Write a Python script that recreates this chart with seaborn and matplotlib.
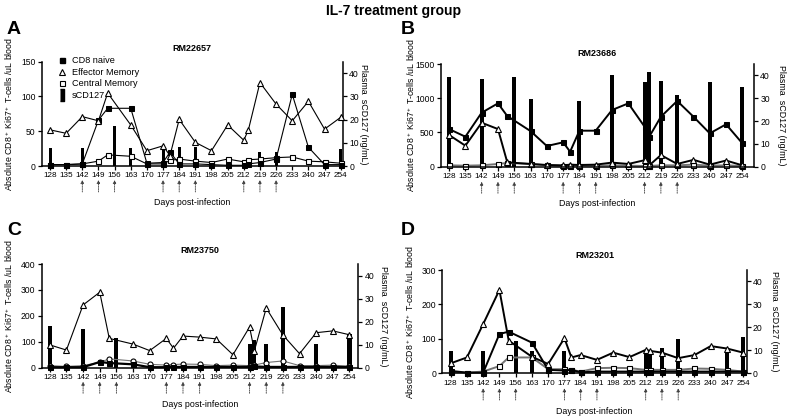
import numpy as np
import matplotlib
matplotlib.use("Agg")
import matplotlib.pyplot as plt
import seaborn as sns
from matplotlib.lines import Line2D

sns.set_theme(style="ticks")
plt.rcParams["font.family"] = ["Liberation Sans", "DejaVu Sans"]
plt.rcParams.update({
    "axes.edgecolor": "black", "xtick.color": "black", "ytick.color": "black",
    "text.color": "black", "axes.labelcolor": "black",
    "mathtext.fontset": "custom", "mathtext.rm": "Liberation Sans",
    "mathtext.it": "Liberation Sans", "mathtext.bf": "Liberation Sans:bold",
})

# ---------------- data ----------------
tick_days = list(range(128, 255, 7))
arrow_days = [142, 149, 156, 177, 184, 191, 212, 219, 226]
days = [128, 135, 142, 149, 153, 163, 170, 177, 180, 184, 191, 198, 205, 212, 214,
        219, 226, 233, 240, 247, 254]

# Panel A  RM22657
naive_A = [2, 2, 3, 66, 83, 83, 4, 5, 20, 3, 3, 2, 1, 1, 3, 5, 10, 103, 27, 2, 2]
em_A = [52, 47, 71, 65, 105, 59, 22, 29, 15, 67, 34, 22, 59, 37, 52, 120, 89, 65, 93, 53, 70]
cm_A = [2, 2, 3, 7, 16, 14, 3, 3, 8, 10, 7, 5, 10, 6, 9, 10, 12, 13, 7, 6, 4]
bar_days_A = [128, 142, 156, 163, 177, 184, 191, 205, 212, 219, 226, 254]
scd_A = [7.9, 7.9, 17.4, 7.9, 8.0, 8.0, 8.3, 1.9, 1.3, 6.0, 6.2, 7.3]

# Panel B  RM23686
naive_B = [550, 438, 789, 925, 740, 520, 302, 356, 219, 526, 526, 828, 925, 584, 438,
           730, 960, 730, 487, 619, 341]
em_B = [463, 307, 642, 550, 64, 40, 25, 20, 30, 25, 30, 60, 40, 95, 20, 170, 40, 100, 30, 90, 20]
cm_B = [20, 15, 20, 40, 55, 40, 20, 10, 15, 15, 15, 20, 15, 10, 10, 20, 20, 30, 15, 20, 10]
bar_days_B = [128, 142, 156, 163, 184, 198, 212, 214, 219, 226, 240, 254]
scd_B = [39.1, 38.4, 39.3, 29.7, 28.9, 40.3, 36.9, 41.5, 37.4, 31.4, 37.2, 34.9]

# Panel C  RM23750
naive_C = [2, 2, 2, 22, 18, 13, 2, 2, 3, 3, 3, 3, 3, 3, 5, 3, 3, 3, 3, 3, 3]
em_C = [88, 68, 242, 291, 113, 91, 66, 113, 75, 122, 118, 111, 50, 157, 65, 230, 126, 54, 135, 142, 127]
cm_C = [8, 5, 8, 21, 34, 26, 13, 10, 12, 14, 13, 8, 10, 8, 10, 20, 26, 8, 8, 10, 5]
bar_days_C = [128, 142, 156, 212, 214, 219, 226, 240, 254]
scd_C = [17.9, 16.9, 13.1, 10.2, 12.1, 10.2, 26.2, 10.2, 14.5]

# Panel D  RM23201
naive_D = [7, 2, 2, 114, 121, 89, 10, 8, 10, 3, 5, 5, 5, 5, 5, 5, 5, 5, 5, 5, 5]
em_D = [29, 46, 143, 242, 95, 48, 27, 102, 46, 53, 39, 60, 47, 68, 65, 60, 44, 53, 79, 72, 60]
cm_D = [3, 2, 5, 21, 46, 46, 12, 12, 10, 5, 15, 16, 15, 10, 10, 10, 10, 14, 13, 10, 5]
bar_days_D = [128, 142, 156, 163, 177, 212, 214, 219, 226, 247, 254]
scd_D = [9.6, 9.6, 14.0, 9.6, 9.6, 10.3, 9.9, 11.0, 15.1, 9.6, 15.9]

ylabel_left = "Absolute CD8$^+$ Ki67$^+$ T-cells /uL blood"
ylabel_right = "Plasma  sCD127 (ng/mL)"

W, H = 788, 419
fig = plt.figure(figsize=(W / 100, H / 100), dpi=100)


def rect(l, r, t, b):
    return [l / W, 1 - b / H, (r - l) / W, (b - t) / H]


def panel(px, xlim, ymax, yticks, name, pad, naive, em, cm, bar_days, scd,
          bar_w, lw, cm_color, cm_marker, arr, xlab_y, ylab_x, ylab2_x, legend=False,
          naive_lw=None):
    ax = fig.add_axes(rect(*px))
    ax2 = ax.twinx()
    ax.set_zorder(ax2.get_zorder() + 1)
    ax.patch.set_visible(False)

    wfrac = bar_w / np.min(np.diff(sorted(bar_days)))
    sns.barplot(x=bar_days, y=scd, native_scale=True, orient="x", width=wfrac,
                color="black", saturation=1, errorbar=None, ax=ax2, linewidth=0)

    ms = 3.6
    sns.lineplot(x=days, y=cm, ax=ax, color=cm_color, linewidth=lw, marker=cm_marker,
                 markersize=ms, markerfacecolor="white", markeredgecolor="black",
                 markeredgewidth=0.8, errorbar=None, clip_on=False)
    sns.lineplot(x=days, y=naive, ax=ax, color="black",
                 linewidth=naive_lw if naive_lw else lw, marker="s",
                 markersize=ms, markerfacecolor="black", markeredgecolor="black",
                 errorbar=None, clip_on=False)
    sns.lineplot(x=days, y=em, ax=ax, color="black", linewidth=lw, marker="^",
                 markersize=ms + 0.6, markerfacecolor="white", markeredgecolor="black",
                 markeredgewidth=0.8, errorbar=None, clip_on=False)

    ax.set_xlim(*xlim)
    ax.set_ylim(0, ymax)
    ax.set_yticks(yticks)
    ax.set_xticks(tick_days)
    ax.set_xticklabels([str(d) for d in tick_days])
    ax2.set_ylim(0, 45)
    ax2.set_yticks([0, 10, 20, 30, 40])

    for a in (ax, ax2):
        a.spines["top"].set_visible(False)
        for s in a.spines.values():
            s.set_linewidth(1.1)
        a.tick_params(direction="out", length=3, width=0.9, labelsize=6.2, pad=1.5)
    ax.tick_params(axis="x", labelsize=5.9)
    ax.spines["right"].set_visible(False)
    ax2.spines["left"].set_visible(False)
    ax2.spines["bottom"].set_visible(False)

    ax.set_title(name, fontsize=6.5, fontweight="bold", pad=pad)
    ax.set_xlabel("Days post-infection", fontsize=6.4)
    ax.xaxis.set_label_coords(0.5, xlab_y)
    ax.set_ylabel(ylabel_left, fontsize=6.3)
    ax.yaxis.set_label_coords(ylab_x, 0.5)
    ax2.set_ylabel(ylabel_right, fontsize=6.4, rotation=270, va="bottom")
    ax2.yaxis.set_label_coords(ylab2_x, 0.5)

    for d in arrow_days:
        ax.annotate("", xy=(d, arr[0]), xycoords=("data", "axes fraction"),
                    xytext=(d, arr[1]), textcoords=("data", "axes fraction"),
                    arrowprops=dict(arrowstyle="-|>", lw=0.6, ls=(0, (1.5, 1.2)),
                                    color="0.25", mutation_scale=5,
                                    shrinkA=0, shrinkB=0),
                    annotation_clip=False)

    if legend:
        bar_marker = [(-1, -3), (1, -3), (1, 3), (-1, 3)]
        handles = [
            Line2D([], [], ls="none", marker="s", color="black", ms=3.6),
            Line2D([], [], ls="none", marker="^", mfc="white", mec="black", ms=4.2, mew=0.8),
            Line2D([], [], ls="none", marker="s", mfc="white", mec="black", ms=3.6, mew=0.8),
            Line2D([], [], ls="none", marker=bar_marker, color="black", ms=9),
        ]
        labels = ["CD8 naive", "Effector Memory", "Central Memory", "sCD127"]
        ax.legend(handles, labels, loc="upper left", bbox_to_anchor=(0.051, 1.055),
                  frameon=False, fontsize=6.6, borderaxespad=0, borderpad=0,
                  handlelength=1.0, handletextpad=0.6, labelspacing=0.3)
    return ax, ax2


panel((41.7, 343, 61.7, 166), (124.4, 255), 150, [0, 50, 100, 150], "RM22657", 7.7,
      naive_A, em_A, cm_A, bar_days_A, scd_A, 1.3, 0.8, "black", "s",
      (-0.134, -0.249), -0.307, -0.089, 1.053, legend=True)
panel((440.7, 754, 64, 166.7), (124.4, 259), 1500, [0, 500, 1000, 1500], "RM23686", 5.5,
      naive_B, em_B, cm_B, bar_days_B, scd_B, 1.7, 1.4, "0.45", "s",
      (-0.146, -0.259), -0.31, -0.076, 1.072)
panel((41.7, 358.3, 264, 367.7), (124.6, 257.7), 400, [0, 100, 200, 300, 400], "RM23750", 7.9,
      naive_C, em_C, cm_C, bar_days_C, scd_C, 1.7, 0.8, "0.45", "o",
      (-0.135, -0.247), -0.311, -0.084, 1.066, naive_lw=1.6)
panel((442.3, 746.7, 270, 373.3), (124.4, 255.5), 300, [0, 100, 200, 300], "RM23201", 8.6,
      naive_D, em_D, cm_D, bar_days_D, scd_D, 1.7, 1.4, "0.45", "s",
      (-0.145, -0.259), -0.326, -0.088, 1.077)

fig.text(0.5, 1 - 11 / H, "IL-7 treatment group", ha="center", va="center",
         fontsize=10, fontweight="bold")
for letter, (x, y) in zip("ABCD", [(14, 29), (408, 29), (14, 230), (408, 230)]):
    fig.text(x / W, 1 - y / H, letter, ha="center", va="center", fontsize=14,
             fontweight="bold")

fig.savefig("out.png", dpi=100)
